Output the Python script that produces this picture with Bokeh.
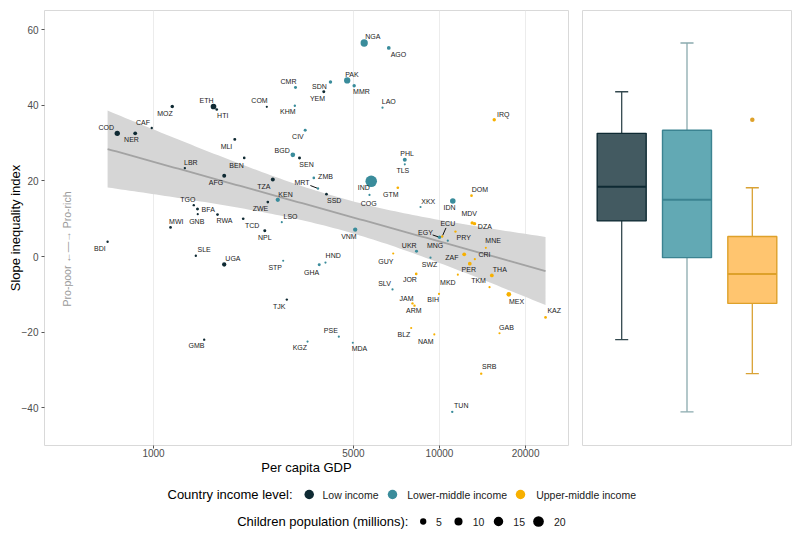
import numpy as np
import pandas as pd
from bokeh.plotting import figure
from bokeh.models import Range1d, FixedTicker, PrintfTickFormatter, ColumnDataSource
from bokeh.layouts import column, row
from bokeh.embed import file_html
from bokeh.resources import INLINE
from bokeh.core.properties import value

# ---------------- data ----------------
low_codes = ["COD", "NER", "CAF", "MOZ", "ETH", "HTI", "MLI", "BEN", "LBR", "AFG", "YEM", "COM", "SEN",
             "TGO", "BFA", "GNB", "RWA", "TCD", "MWI", "BDI", "SLE", "UGA", "GMB", "TZA", "SSD",
             "ZWE", "NPL", "TJK"]
low_gdp = [747, 863, 986, 1163, 1621, 1664, 1924, 2076, 1287, 1767, 3939, 2490, 3240,
           1383, 1425, 1428, 1674, 2059, 1147, 691, 1406, 1767, 1504, 2613, 4025,
           2510, 2450, 2925]
low_slope = [32.6, 32.6, 34.0, 39.7, 39.7, 38.9, 31.0, 26.1, 23.4, 21.4, 43.6, 39.6, 26.1,
             13.6, 12.6, 11.2, 11.1, 10.0, 7.7, 3.9, 0.2, -2.1, -22.0, 20.4, 16.5,
             14.4, 6.8, -11.4]
low_children = [3.0, 0.9, 0.05, 0.6, 3.7, 0.15, 0.3, 0.15, 0.05, 1.1, 0.3, 0.02, 0.3,
                0.05, 0.3, 0.02, 0.15, 0.15, 0.15, 0.05, 0.05, 1.5, 0.05, 1.1, 0.15,
                0.15, 0.3, 0.05]

lmid_codes = ["NGA", "AGO", "PAK", "SDN", "MMR", "CMR", "KHM", "LAO", "CIV", "BGD", "PHL", "TLS",
              "IND", "ZMB", "MRT", "KEN", "COG", "XKX", "LSO", "VNM", "EGY", "MNG", "UKR", "HND", "GHA",
              "STP", "SWZ", "SLV", "PSE", "KGZ", "MDA", "IDN", "TUN"]
lmid_gdp = [5453, 6647, 4756, 4157, 5031, 3137, 3120, 6320, 3392, 3070, 7562, 7562,
            5770, 3635, 3760, 2720, 5691, 8583, 2809, 5073, 10000, 10690, 8311, 3993, 3797,
            2841, 9301, 6850, 4446, 3456, 4975, 11130, 11080]
lmid_slope = [56.5, 55.2, 46.6, 46.2, 45.2, 44.7, 39.9, 39.4, 33.4, 26.9, 25.6, 24.4,
              19.9, 20.8, 18.0, 15.0, 16.3, 13.1, 9.1, 7.1, 5.1, 4.2, 1.4, -1.6, -2.2,
              -1.1, -0.3, -8.7, -21.2, -22.5, -22.8, 14.7, -41.1]
lmid_children = [7.5, 0.9, 5.0, 0.6, 0.6, 0.3, 0.05, 0.02, 0.3, 2.0, 1.1, 0.01,
                 24.0, 0.15, 0.05, 1.5, 0.02, 0.01, 0.01, 1.5, 0.6, 0.02, 0.3, 0.02, 0.3,
                 0.01, 0.02, 0.02, 0.02, 0.02, 0.01, 3.5, 0.05]

umid_codes = ["IRQ", "GTM", "GUY", "JOR", "JAM", "ARM", "BIH", "BLZ", "NAM", "DOM", "MDV", "DZA",
              "ECU", "PRY", "MNE", "ZAF", "CRI", "PER", "THA", "MKD", "TKM", "MEX", "KAZ", "GAB", "SRB"]
umid_gdp = [15537, 7150, 6889, 8290, 8046, 8177, 9960, 7962, 9590, 12940, 13010, 13260,
            10219, 11370, 14520, 12200, 13290, 12760, 15240, 11590, 14960, 17470, 23480, 16210, 13990]
umid_slope = [36.2, 18.2, 0.8, -4.6, -12.4, -13.0, -9.9, -18.9, -20.6, 16.1, 8.9, 8.7,
              5.3, 6.6, 2.3, 0.6, -0.7, -1.9, -5.0, -4.8, -8.1, -10.0, -16.1, -20.3, -31.0]
umid_children = [0.6, 0.15, 0.02, 0.15, 0.05, 0.05, 0.02, 0.01, 0.01, 0.15, 0.6, 0.6,
                 0.05, 0.05, 0.01, 0.9, 0.02, 0.9, 0.9, 0.01, 0.02, 2.0, 0.15, 0.02, 0.05]

income_levels = ["Low income", "Lower-middle income", "Upper-middle income"]
x_ticks = [1000, 5000, 10000, 20000]
y_ticks = [-40, -20, 0, 20, 40, 60]
size_breaks = [5, 10, 15, 20]

# ---------------- layout / style (not data) ----------------
COLORS = {"Low income": "#0f2a33", "Lower-middle income": "#3a8c9b", "Upper-middle income": "#f7b000"}
BOX_FILL = {"Low income": "#435a61", "Lower-middle income": "#62a9b4", "Upper-middle income": "#ffc56f"}
BOX_EDGE = {"Low income": "#0e2a33", "Lower-middle income": "#3b8391", "Upper-middle income": "#dea12a"}
WHISK = {"Low income": "#34494f", "Lower-middle income": "#8aaaae", "Upper-middle income": "#d9a235"}
FONT = "Liberation Sans"

# label nudges in screen px (dx right, dy down)
NUDGE = {
    "COD": (-11, -6), "NER": (-3.7, 6.3), "CAF": (-8.7, -5.7), "MOZ": (-7.3, 6.7), "ETH": (-7, -6),
    "HTI": (6, 6), "MLI": (-8.3, 7.3), "BEN": (-7.7, 7.3), "LBR": (6, -5.3), "AFG": (-8.3, 7),
    "YEM": (-6.3, 6.3), "COM": (-7.3, -6.7), "SEN": (7, 6.7), "TGO": (-6, -5.3), "BFA": (10.7, 0.7),
    "GNB": (-1, 7.7), "RWA": (7, 6.3), "TCD": (9, 7), "MWI": (5.7, -6), "BDI": (-7.7, 7),
    "SLE": (8.3, -6), "UGA": (8.7, -5.7), "GMB": (-7.7, 5.7), "TZA": (-9, 6.7), "MRT": (-16, -6.3),
    "SSD": (7.7, 6.7), "ZWE": (-7.3, 6.7), "NPL": (0, 7), "TJK": (-7.7, 6.7),
    "NGA": (8.7, -6.3), "AGO": (9.7, 6.7), "PAK": (4.7, -6.3), "SDN": (-11, 4.3), "MMR": (7.3, 5.7),
    "CMR": (-7, -5.7), "KHM": (-7, 5.7), "LAO": (6.3, -6.3), "CIV": (-7.3, 6.3), "BGD": (-10.7, -4.7),
    "PHL": (2.3, -6.3), "TLS": (-2, 6.3), "IND": (-7.3, 6), "ZMB": (11.7, -1.3), "KEN": (7.7, -5.3),
    "COG": (-0.7, 9), "XKX": (7.7, -5.3), "LSO": (8.7, -5.7), "VNM": (-6.3, 6.3), "EGY": (-14, -4.7),
    "MNG": (-12.7, 4.7), "UKR": (-7.3, -5.3), "HND": (7.7, -6.7), "GHA": (-7.7, 7.3), "STP": (-8, 7.3),
    "SWZ": (-1, 6.7), "SLV": (-8, -5.7), "PSE": (-8, -6), "KGZ": (-7.7, 5.7), "MDA": (6.7, 5.7),
    "IDN": (-3.3, 6.3), "TUN": (9, -6),
    "IRQ": (9, -5.7), "GTM": (-7, 7), "GUY": (-7.3, 7.7), "JOR": (-6.3, 6), "JAM": (-6, -5),
    "ARM": (-0.7, 5.3), "BIH": (-5.8, 5.7), "BLZ": (-7.3, 6.7), "NAM": (-8.5, 6.7), "DOM": (8.3, -5.7),
    "MDV": (-3, -9), "DZA": (10.3, 3.3), "ECU": (5.6, -12.7), "PRY": (8.3, 6.3), "MNE": (7.3, -7.3),
    "ZAF": (-12.3, 3), "CRI": (9.7, -4.7), "PER": (-1, 5.7), "THA": (8, -6), "MKD": (-10, 8),
    "TKM": (-11, -6.3), "MEX": (7.7, 7), "KAZ": (8.7, -6.7), "GAB": (7, -6), "SRB": (8, -6.7),
}
LEADERS = {"MRT": 9, "EGY": 7.5, "ECU": 4.5}

XMIN, XMAX = 415.8, 28250
YMIN, YMAX = -50.0, 65.1
FW, FH = 524, 435
PX_DEC = FW / (np.log10(XMAX) - np.log10(XMIN))
PX_UNIT = FH / (YMAX - YMIN)


def dot_px(v):
    return 1.92 * (1 + 5 * np.sqrt(np.asarray(v, dtype=float) / 24.0))


# ---------------- assemble ----------------
frames = []
for lvl, c, g, s, k in [("Low income", low_codes, low_gdp, low_slope, low_children),
                        ("Lower-middle income", lmid_codes, lmid_gdp, lmid_slope, lmid_children),
                        ("Upper-middle income", umid_codes, umid_gdp, umid_slope, umid_children)]:
    frames.append(pd.DataFrame({"code": c, "gdp": g, "slope": s, "children": k, "income": lvl}))
df = pd.concat(frames, ignore_index=True)
df["color"] = df["income"].map(COLORS)
df["size"] = dot_px(df["children"])
df["dx"] = [NUDGE[c][0] for c in df["code"]]
df["dy"] = [NUDGE[c][1] for c in df["code"]]
df["lx"] = df["gdp"] * 10 ** (df["dx"] / PX_DEC)
df["ly"] = df["slope"] - df["dy"] / PX_UNIT

# linear fit on log10 GDP with 95% CI
lx = np.log10(df["gdp"].values)
yv = df["slope"].values
n = len(lx)
b, a = np.polyfit(lx, yv, 1)
res = yv - (a + b * lx)
s_err = np.sqrt(np.sum(res ** 2) / (n - 2))
sxx = np.sum((lx - lx.mean()) ** 2)
xs = np.linspace(lx.min(), lx.max(), 100)
yhat = a + b * xs
se = s_err * np.sqrt(1.0 / n + (xs - lx.mean()) ** 2 / sxx)
tq = 1.989
fit = ColumnDataSource(dict(x=10 ** xs, y=yhat, lo=yhat - tq * se, hi=yhat + tq * se))

yr = Range1d(YMIN, YMAX)

p1 = figure(frame_width=FW, frame_height=FH, x_axis_type="log", x_range=Range1d(XMIN, XMAX),
            y_range=yr, output_backend="svg", toolbar_location=None,
            min_border_left=44, min_border_right=7, min_border_top=10, min_border_bottom=32)
p1.outline_line_color = "#d9d9d9"
p1.ygrid.visible = False
p1.xgrid.ticker = FixedTicker(ticks=x_ticks)
p1.xgrid.grid_line_color = "#ececec"
p1.xaxis.ticker = FixedTicker(ticks=x_ticks)
p1.xaxis.formatter = PrintfTickFormatter(format="%d")
p1.yaxis.ticker = FixedTicker(ticks=y_ticks)
for ax in (p1.xaxis, p1.yaxis):
    ax.axis_line_color = None
    ax.major_tick_line_color = "#555555"
    ax.major_tick_out = 3
    ax.major_tick_in = 0
    ax.minor_tick_line_color = None
    ax.major_label_text_font = FONT
    ax.major_label_text_font_size = "10px"
    ax.major_label_text_color = "#4d4d4d"
    ax.axis_label_text_font = FONT
    ax.axis_label_text_font_style = "normal"
    ax.axis_label_text_font_size = "13px"
    ax.axis_label_text_color = "#000000"
p1.xaxis.axis_label = "Per capita GDP"
p1.yaxis.axis_label = "Slope inequality index"
p1.xaxis.major_label_standoff = 0
p1.yaxis.major_label_standoff = 3
p1.xaxis.axis_label_standoff = 0
p1.yaxis.axis_label_standoff = -4

p1.varea(x="x", y1="lo", y2="hi", source=fit, fill_color="#d6d6d6", fill_alpha=1.0)
p1.line(x="x", y="y", source=fit, line_color="#a3a3a3", line_width=1.8)

# leader lines
lead = df[df["code"].isin(list(LEADERS))]
sx0, sy0, sx1, sy1 = [], [], [], []
for _, r in lead.iterrows():
    vx, vy = -r["dx"], -r["dy"]
    L = np.hypot(vx, vy)
    ux, uy = vx / L, vy / L
    k0 = LEADERS[r["code"]]
    ox0, oy0 = r["dx"] + ux * k0, r["dy"] + uy * k0
    ox1, oy1 = -ux * 1.0, -uy * 1.0
    sx0.append(r["gdp"] * 10 ** (ox0 / PX_DEC)); sy0.append(r["slope"] - oy0 / PX_UNIT)
    sx1.append(r["gdp"] * 10 ** (ox1 / PX_DEC)); sy1.append(r["slope"] - oy1 / PX_UNIT)
p1.segment(x0=sx0, y0=sy0, x1=sx1, y1=sy1, line_color="#111111", line_width=1)

src = ColumnDataSource(df)
p1.scatter(x="gdp", y="slope", size="size", fill_color="color", line_color=None, source=src)
p1.text(x="lx", y="ly", text="code", source=src, text_font=value(FONT), text_font_size="7px",
        text_align="center", text_baseline="middle", text_color="#1a1a1a")
p1.text(x=[500], y=[2], text=["Pro-poor \u2190\u2014\u2192 Pro-rich"], angle=np.pi / 2,
        text_font=value(FONT), text_font_size="10.5px", text_align="center",
        text_baseline="middle", text_color="#9a9a9a")

# ---------------- box plot panel ----------------
pos, q1s, meds, q3s, los, his, fills, edges, whs = [], [], [], [], [], [], [], [], []
out_x, out_y, out_c = [], [], []
for i, lvl in enumerate(income_levels):
    v = df.loc[df["income"] == lvl, "slope"].values
    q1, med, q3 = np.percentile(v, [25, 50, 75])
    iqr = q3 - q1
    inside = v[(v >= q1 - 1.5 * iqr) & (v <= q3 + 1.5 * iqr)]
    pos.append(i + 1); q1s.append(q1); meds.append(med); q3s.append(q3)
    los.append(inside.min()); his.append(inside.max())
    fills.append(BOX_FILL[lvl]); edges.append(BOX_EDGE[lvl]); whs.append(WHISK[lvl])
    for o in v[(v < q1 - 1.5 * iqr) | (v > q3 + 1.5 * iqr)]:
        out_x.append(i + 1); out_y.append(o); out_c.append(BOX_EDGE[lvl])
pos = np.array(pos, dtype=float)

p2 = figure(frame_width=209, frame_height=FH, x_range=Range1d(0.4, 3.6), y_range=yr,
            output_backend="svg", toolbar_location=None, x_axis_location=None, y_axis_location=None,
            min_border_left=7, min_border_right=1, min_border_top=10, min_border_bottom=32)
p2.outline_line_color = "#d9d9d9"
p2.grid.visible = False
p2.segment(x0=pos, y0=q3s, x1=pos, y1=his, line_color=whs, line_width=1.3)
p2.segment(x0=pos, y0=q1s, x1=pos, y1=los, line_color=whs, line_width=1.3)
p2.segment(x0=pos - 0.1, y0=his, x1=pos + 0.1, y1=his, line_color=whs, line_width=1.3)
p2.segment(x0=pos - 0.1, y0=los, x1=pos + 0.1, y1=los, line_color=whs, line_width=1.3)
p2.quad(left=pos - 0.375, right=pos + 0.375, bottom=q1s, top=q3s, fill_color=fills,
        line_color=edges, line_width=1.4)
p2.segment(x0=pos - 0.375, y0=meds, x1=pos + 0.375, y1=meds, line_color=edges, line_width=2)
p2.scatter(x=out_x, y=out_y, size=4.5, fill_color=out_c, line_color=None)

# ---------------- legend panel ----------------
p3 = figure(frame_width=792, frame_height=58, x_range=Range1d(0, 792), y_range=Range1d(58, 0),
            output_backend="svg", toolbar_location=None, x_axis_location=None, y_axis_location=None,
            min_border=0)
p3.outline_line_color = None
p3.grid.visible = False
p3.text(x=[167], y=[17], text=["Country income level:"], text_font=value(FONT),
        text_font_size="13px", text_baseline="middle", text_color="#000000")
p3.scatter(x=[308.7, 392, 520], y=[17, 17, 17], size=9.5,
           fill_color=[COLORS[l] for l in income_levels], line_color=None)
p3.text(x=[322, 406.7, 535.7], y=[17, 17, 17], text=income_levels, text_font=value(FONT),
        text_font_size="10.5px", text_baseline="middle", text_color="#1a1a1a")
p3.text(x=[236.7], y=[44], text=["Children population (millions):"], text_font=value(FONT),
        text_font_size="13px", text_baseline="middle", text_color="#000000")
p3.scatter(x=[422.7, 458, 498, 538], y=[44] * 4, size=dot_px(size_breaks), fill_color="#000000",
           line_color=None)
p3.text(x=[438.3, 478, 518.7, 559.3], y=[44] * 4, text=[str(s) for s in size_breaks],
        text_font=value(FONT), text_font_size="10.5px", text_align="center",
        text_baseline="middle", text_color="#1a1a1a")

layout = column(row(p1, p2), p3)
open("out.html", "w").write(file_html(layout, INLINE))
